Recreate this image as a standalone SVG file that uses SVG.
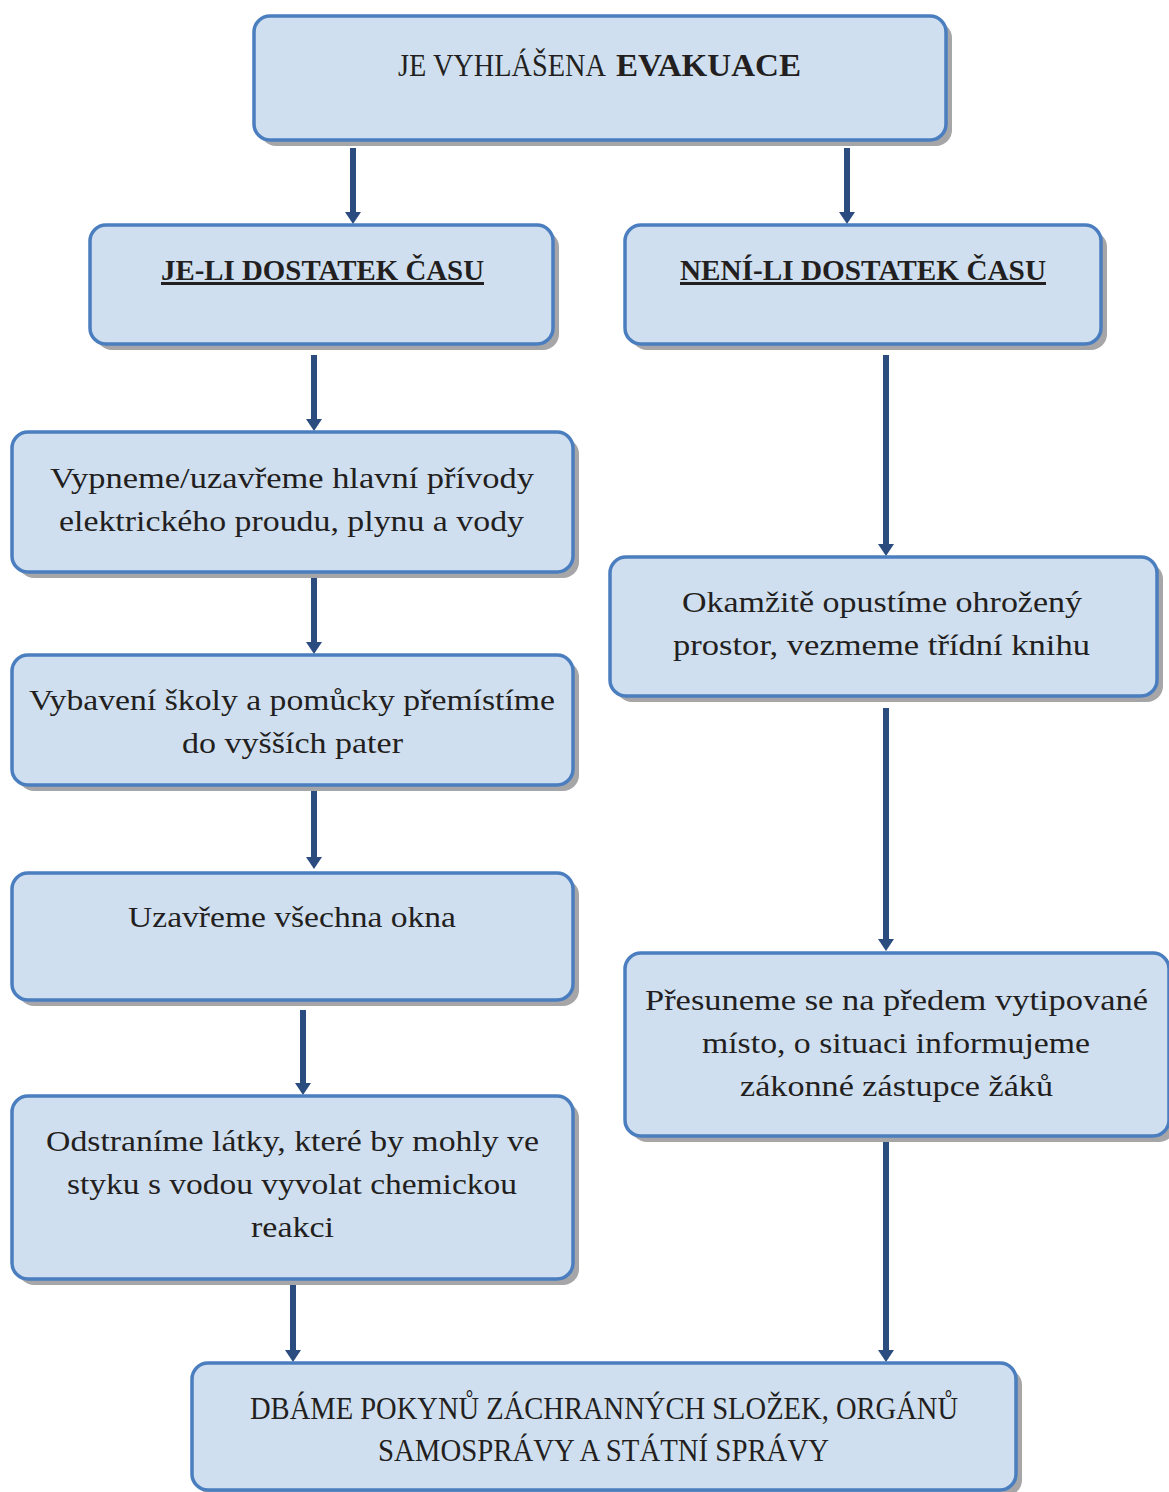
<svg xmlns="http://www.w3.org/2000/svg" width="1169" height="1492" viewBox="0 0 1169 1492">
<defs>
<style>
.shadow{fill:#a6a6a8;}
.box{fill:#d0dff0;stroke:#4a7ebf;stroke-width:3.5;}
.t{font-family:"Liberation Serif","Times New Roman",serif;font-size:30px;fill:#231f20;text-anchor:middle;}
.b{font-weight:bold;}
.u{text-decoration:underline;}
.con{stroke:#2b4c7e;stroke-width:6;fill:none;marker-end:url(#ah);}
</style>
<marker id="ah" markerUnits="userSpaceOnUse" markerWidth="12" markerHeight="16" refX="2" refY="8" orient="auto" viewBox="0 0 12 16">
<path d="M0,0 L12,8 L0,16 Z" fill="#2b4c7e"/>
</marker>
</defs>
<rect width="1169" height="1492" fill="#ffffff"/>

<g id="connectors">
<line class="con" x1="353" y1="148" x2="353" y2="214"/>
<line class="con" x1="847" y1="148" x2="847" y2="214"/>
<line class="con" x1="314" y1="355" x2="314" y2="421"/>
<line class="con" x1="314" y1="573" x2="314" y2="644"/>
<line class="con" x1="314" y1="786" x2="314" y2="859"/>
<line class="con" x1="303" y1="1010" x2="303" y2="1085"/>
<line class="con" x1="293" y1="1280" x2="293" y2="1352"/>
<line class="con" x1="886" y1="355" x2="886" y2="546"/>
<line class="con" x1="886" y1="708" x2="886" y2="941"/>
<line class="con" x1="886" y1="1137" x2="886" y2="1352"/>
</g>

<g id="n-top">
<rect class="shadow" x="260" y="22" width="692" height="124" rx="16"/>
<rect class="box" x="254" y="16" width="692" height="124" rx="16"/>
<text class="t" y="76" style="font-size:32px"><tspan x="502" textLength="208" lengthAdjust="spacingAndGlyphs">JE VYHLÁŠENA</tspan><tspan class="b" x="708.5" textLength="185" lengthAdjust="spacingAndGlyphs">EVAKUACE</tspan></text>
</g>

<g id="n-cas-ano">
<rect class="shadow" x="96" y="231" width="463" height="119" rx="16"/>
<rect class="box" x="90" y="225" width="463" height="119" rx="16"/>
<text class="t b u" x="322.5" y="280" textLength="323" lengthAdjust="spacingAndGlyphs">JE-LI DOSTATEK ČASU</text>
</g>

<g id="n-cas-ne">
<rect class="shadow" x="631" y="231" width="476" height="119" rx="16"/>
<rect class="box" x="625" y="225" width="476" height="119" rx="16"/>
<text class="t b u" x="863" y="280" textLength="366" lengthAdjust="spacingAndGlyphs">NENÍ-LI DOSTATEK ČASU</text>
</g>

<g id="n-l1">
<rect class="shadow" x="18" y="438" width="561" height="140" rx="16"/>
<rect class="box" x="12" y="432" width="561" height="140" rx="16"/>
<text class="t" x="292" y="488" textLength="484" lengthAdjust="spacingAndGlyphs">Vypneme/uzavřeme hlavní přívody</text>
<text class="t" x="291.5" y="531" textLength="465" lengthAdjust="spacingAndGlyphs">elektrického proudu, plynu a vody</text>
</g>

<g id="n-l2">
<rect class="shadow" x="18" y="661" width="561" height="130" rx="16"/>
<rect class="box" x="12" y="655" width="561" height="130" rx="16"/>
<text class="t" x="292" y="710" textLength="526" lengthAdjust="spacingAndGlyphs">Vybavení školy a pomůcky přemístíme</text>
<text class="t" x="292.5" y="753" textLength="221" lengthAdjust="spacingAndGlyphs">do vyšších pater</text>
</g>

<g id="n-l3">
<rect class="shadow" x="18" y="879" width="561" height="127" rx="16"/>
<rect class="box" x="12" y="873" width="561" height="127" rx="16"/>
<text class="t" x="292" y="927" textLength="328" lengthAdjust="spacingAndGlyphs">Uzavřeme všechna okna</text>
</g>

<g id="n-l4">
<rect class="shadow" x="18" y="1102" width="561" height="183" rx="16"/>
<rect class="box" x="12" y="1096" width="561" height="183" rx="16"/>
<text class="t" x="292.5" y="1151" textLength="493" lengthAdjust="spacingAndGlyphs">Odstraníme látky, které by mohly ve</text>
<text class="t" x="292" y="1194" textLength="450" lengthAdjust="spacingAndGlyphs">styku s vodou vyvolat chemickou</text>
<text class="t" x="292.5" y="1237" textLength="83" lengthAdjust="spacingAndGlyphs">reakci</text>
</g>

<g id="n-r1">
<rect class="shadow" x="616" y="563" width="547" height="139" rx="16"/>
<rect class="box" x="610" y="557" width="547" height="139" rx="16"/>
<text class="t" x="882" y="612" textLength="400" lengthAdjust="spacingAndGlyphs">Okamžitě opustíme ohrožený</text>
<text class="t" x="881.5" y="655" textLength="417" lengthAdjust="spacingAndGlyphs">prostor, vezmeme třídní knihu</text>
</g>

<g id="n-r2">
<rect class="shadow" x="631" y="959" width="544" height="183" rx="16"/>
<rect class="box" x="625" y="953" width="544" height="183" rx="16"/>
<text class="t" x="896.5" y="1010" textLength="503" lengthAdjust="spacingAndGlyphs">Přesuneme se na předem vytipované</text>
<text class="t" x="896" y="1053" textLength="388" lengthAdjust="spacingAndGlyphs">místo, o situaci informujeme</text>
<text class="t" x="896.5" y="1096" textLength="313" lengthAdjust="spacingAndGlyphs">zákonné zástupce žáků</text>
</g>

<g id="n-bottom">
<rect class="shadow" x="198" y="1369" width="824" height="127" rx="16"/>
<rect class="box" x="192" y="1363" width="824" height="127" rx="16"/>
<text class="t" x="604" y="1419" style="font-size:31px" textLength="708" lengthAdjust="spacingAndGlyphs">DBÁME POKYNŮ ZÁCHRANNÝCH SLOŽEK, ORGÁNŮ</text>
<text class="t" x="603.5" y="1461" style="font-size:31px" textLength="451" lengthAdjust="spacingAndGlyphs">SAMOSPRÁVY A STÁTNÍ SPRÁVY</text>
</g>
</svg>
